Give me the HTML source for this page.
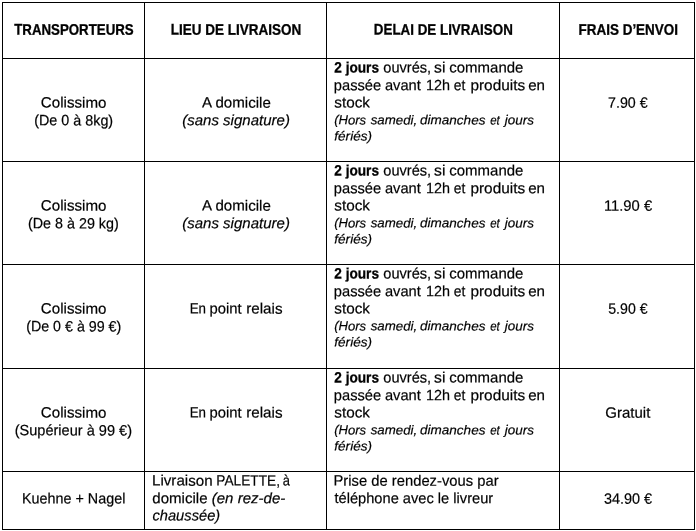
<!DOCTYPE html><html lang="fr"><head><meta charset="utf-8"><title>Livraison</title><style>
html,body{margin:0;padding:0;background:#fff;}
body{width:696px;height:531px;position:relative;overflow:hidden;font-family:"Liberation Sans", sans-serif;color:#000;}
.ln{position:absolute;background:#000;}
#tx{position:absolute;left:0;top:0;width:696px;height:531px;opacity:0.999;will-change:transform;}
.t{position:absolute;left:0;top:0;white-space:nowrap;line-height:20px;transform-origin:0 0;color:#000;text-rendering:geometricPrecision;-webkit-text-stroke:0.2px #000;}

</style></head><body>
<div class="ln" style="left:2px;top:2px;width:1px;height:528px"></div>
<div class="ln" style="left:144px;top:2px;width:1px;height:528px"></div>
<div class="ln" style="left:326px;top:2px;width:1px;height:528px"></div>
<div class="ln" style="left:559px;top:2px;width:1px;height:528px"></div>
<div class="ln" style="left:694px;top:2px;width:1px;height:528px"></div>
<div class="ln" style="left:2px;top:2px;width:693px;height:1px"></div>
<div class="ln" style="left:2px;top:58px;width:693px;height:1px"></div>
<div class="ln" style="left:2px;top:161px;width:693px;height:1px"></div>
<div class="ln" style="left:2px;top:264px;width:693px;height:1px"></div>
<div class="ln" style="left:2px;top:368px;width:693px;height:1px"></div>
<div class="ln" style="left:2px;top:471px;width:693px;height:1px"></div>
<div class="ln" style="left:2px;top:529px;width:693px;height:1px"></div>
<div id="tx">
<div class="t" style="font-size:15.3px;font-weight:bold;-webkit-text-stroke:0.3px #000;transform:matrix(0.8678,0.0007,0,1,14.20,20.62)">TRANSPORTEURS</div>
<div class="t" style="font-size:15.3px;font-weight:bold;-webkit-text-stroke:0.3px #000;transform:matrix(0.8821,0.0007,0,1,170.73,20.62)">LIEU DE LIVRAISON</div>
<div class="t" style="font-size:15.3px;font-weight:bold;-webkit-text-stroke:0.3px #000;transform:matrix(0.8745,0.0007,0,1,373.83,20.61)">DELAI DE LIVRAISON</div>
<div class="t" style="font-size:15.3px;font-weight:bold;-webkit-text-stroke:0.3px #000;transform:matrix(0.8800,0.0007,0,1,578.53,20.63)">FRAIS D’ENVOI</div>
<div class="t" style="font-size:15px;transform:matrix(1.0098,0.0007,0,1,40.87,93.60)">Colissimo</div>
<div class="t" style="font-size:15px;transform:matrix(0.9570,0.0007,0,1,34.16,111.35)">(De 0 à 8kg)</div>
<div class="t" style="font-size:15px;transform:matrix(1.0077,0.0007,0,1,201.93,93.60)">A domicile</div>
<div class="t" style="font-size:15px;font-style:italic;transform:matrix(1.0016,0.0007,0,1,182.17,111.18)">(sans signature)</div>
<div class="t" style="font-size:15px;font-weight:bold;-webkit-text-stroke:0.3px #000;transform:matrix(0.9096,0.0007,0,1,334.26,58.45)">2 jours</div>
<div class="t" style="font-size:15px;transform:matrix(0.9737,0.0007,0,1,383.26,58.45)">ouvrés,</div>
<div class="t" style="font-size:15px;transform:matrix(1.0526,0.0007,0,1,434.01,58.47)">si</div>
<div class="t" style="font-size:15px;transform:matrix(0.9983,0.0007,0,1,449.30,58.44)">commande</div>
<div class="t" style="font-size:15px;transform:matrix(0.9792,0.0007,0,1,333.84,76.26)">passée</div>
<div class="t" style="font-size:15px;transform:matrix(0.9793,0.0007,0,1,384.91,76.27)">avant</div>
<div class="t" style="font-size:15px;transform:matrix(0.9600,0.0007,0,1,426.04,76.27)">12h</div>
<div class="t" style="font-size:15px;transform:matrix(0.9250,0.0007,0,1,453.84,76.28)">et</div>
<div class="t" style="font-size:15px;transform:matrix(1.0269,0.0007,0,1,470.40,76.26)">produits</div>
<div class="t" style="font-size:15px;transform:matrix(1.0098,0.0007,0,1,528.20,76.27)">en</div>
<div class="t" style="font-size:15px;transform:matrix(1.0216,0.0007,0,1,334.22,93.46)">stock</div>
<div class="t" style="font-size:13px;font-style:italic;transform:matrix(1.0056,0.0007,0,1,334.20,110.37)">(Hors</div>
<div class="t" style="font-size:13px;font-style:italic;transform:matrix(1.0215,0.0007,0,1,370.73,110.36)">samedi,</div>
<div class="t" style="font-size:13px;font-style:italic;transform:matrix(1.0405,0.0007,0,1,420.01,110.36)">dimanches</div>
<div class="t" style="font-size:13px;font-style:italic;transform:matrix(0.8818,0.0007,0,1,490.17,110.38)">et</div>
<div class="t" style="font-size:13px;font-style:italic;transform:matrix(1.0339,0.0007,0,1,504.75,110.37)">jours</div>
<div class="t" style="font-size:13px;font-style:italic;transform:matrix(1.0429,0.0007,0,1,334.31,126.46)">fériés)</div>
<div class="t" style="font-size:15px;transform:matrix(0.9512,0.0007,0,1,608.01,93.71)">7.90 €</div>
<div class="t" style="font-size:15px;transform:matrix(1.0098,0.0007,0,1,40.87,196.60)">Colissimo</div>
<div class="t" style="font-size:15px;transform:matrix(0.9558,0.0007,0,1,27.91,214.35)">(De 8 à 29 kg)</div>
<div class="t" style="font-size:15px;transform:matrix(1.0077,0.0007,0,1,201.93,196.60)">A domicile</div>
<div class="t" style="font-size:15px;font-style:italic;transform:matrix(1.0016,0.0007,0,1,182.17,214.18)">(sans signature)</div>
<div class="t" style="font-size:15px;font-weight:bold;-webkit-text-stroke:0.3px #000;transform:matrix(0.9096,0.0007,0,1,334.26,161.45)">2 jours</div>
<div class="t" style="font-size:15px;transform:matrix(0.9737,0.0007,0,1,383.26,161.45)">ouvrés,</div>
<div class="t" style="font-size:15px;transform:matrix(1.0526,0.0007,0,1,434.01,161.47)">si</div>
<div class="t" style="font-size:15px;transform:matrix(0.9983,0.0007,0,1,449.30,161.44)">commande</div>
<div class="t" style="font-size:15px;transform:matrix(0.9792,0.0007,0,1,333.84,179.26)">passée</div>
<div class="t" style="font-size:15px;transform:matrix(0.9793,0.0007,0,1,384.91,179.27)">avant</div>
<div class="t" style="font-size:15px;transform:matrix(0.9600,0.0007,0,1,426.04,179.27)">12h</div>
<div class="t" style="font-size:15px;transform:matrix(0.9250,0.0007,0,1,453.84,179.28)">et</div>
<div class="t" style="font-size:15px;transform:matrix(1.0269,0.0007,0,1,470.40,179.26)">produits</div>
<div class="t" style="font-size:15px;transform:matrix(1.0098,0.0007,0,1,528.20,179.27)">en</div>
<div class="t" style="font-size:15px;transform:matrix(1.0216,0.0007,0,1,334.22,196.46)">stock</div>
<div class="t" style="font-size:13px;font-style:italic;transform:matrix(1.0056,0.0007,0,1,334.20,213.37)">(Hors</div>
<div class="t" style="font-size:13px;font-style:italic;transform:matrix(1.0215,0.0007,0,1,370.73,213.36)">samedi,</div>
<div class="t" style="font-size:13px;font-style:italic;transform:matrix(1.0405,0.0007,0,1,420.01,213.36)">dimanches</div>
<div class="t" style="font-size:13px;font-style:italic;transform:matrix(0.8818,0.0007,0,1,490.17,213.38)">et</div>
<div class="t" style="font-size:13px;font-style:italic;transform:matrix(1.0339,0.0007,0,1,504.75,213.37)">jours</div>
<div class="t" style="font-size:13px;font-style:italic;transform:matrix(1.0429,0.0007,0,1,334.31,229.46)">fériés)</div>
<div class="t" style="font-size:15px;transform:matrix(0.9859,0.0007,0,1,603.91,196.70)">11.90 €</div>
<div class="t" style="font-size:15px;transform:matrix(1.0098,0.0007,0,1,40.87,299.60)">Colissimo</div>
<div class="t" style="font-size:15px;transform:matrix(0.9504,0.0007,0,1,26.17,317.35)">(De 0 € à 99 €)</div>
<div class="t" style="font-size:15px;transform:matrix(0.8916,0.0007,0,1,189.70,299.61)">En</div>
<div class="t" style="font-size:15px;transform:matrix(0.9897,0.0007,0,1,209.53,299.61)">point</div>
<div class="t" style="font-size:15px;transform:matrix(1.0145,0.0007,0,1,246.21,299.61)">relais</div>
<div class="t" style="font-size:15px;font-weight:bold;-webkit-text-stroke:0.3px #000;transform:matrix(0.9096,0.0007,0,1,334.26,264.46)">2 jours</div>
<div class="t" style="font-size:15px;transform:matrix(0.9737,0.0007,0,1,383.26,264.46)">ouvrés,</div>
<div class="t" style="font-size:15px;transform:matrix(1.0526,0.0007,0,1,434.01,264.48)">si</div>
<div class="t" style="font-size:15px;transform:matrix(0.9983,0.0007,0,1,449.30,264.45)">commande</div>
<div class="t" style="font-size:15px;transform:matrix(0.9792,0.0007,0,1,333.84,282.25)">passée</div>
<div class="t" style="font-size:15px;transform:matrix(0.9793,0.0007,0,1,384.91,282.26)">avant</div>
<div class="t" style="font-size:15px;transform:matrix(0.9600,0.0007,0,1,426.04,282.26)">12h</div>
<div class="t" style="font-size:15px;transform:matrix(0.9250,0.0007,0,1,453.84,282.27)">et</div>
<div class="t" style="font-size:15px;transform:matrix(1.0269,0.0007,0,1,470.40,282.25)">produits</div>
<div class="t" style="font-size:15px;transform:matrix(1.0098,0.0007,0,1,528.20,282.26)">en</div>
<div class="t" style="font-size:15px;transform:matrix(1.0216,0.0007,0,1,334.22,299.47)">stock</div>
<div class="t" style="font-size:13px;font-style:italic;transform:matrix(1.0056,0.0007,0,1,334.20,316.37)">(Hors</div>
<div class="t" style="font-size:13px;font-style:italic;transform:matrix(1.0215,0.0007,0,1,370.73,316.36)">samedi,</div>
<div class="t" style="font-size:13px;font-style:italic;transform:matrix(1.0405,0.0007,0,1,420.01,316.36)">dimanches</div>
<div class="t" style="font-size:13px;font-style:italic;transform:matrix(0.8818,0.0007,0,1,490.17,316.38)">et</div>
<div class="t" style="font-size:13px;font-style:italic;transform:matrix(1.0339,0.0007,0,1,504.75,316.37)">jours</div>
<div class="t" style="font-size:13px;font-style:italic;transform:matrix(1.0429,0.0007,0,1,334.31,332.47)">fériés)</div>
<div class="t" style="font-size:15px;transform:matrix(0.9435,0.0007,0,1,608.23,299.72)">5.90 €</div>
<div class="t" style="font-size:15px;transform:matrix(1.0098,0.0007,0,1,40.87,403.60)">Colissimo</div>
<div class="t" style="font-size:15px;transform:matrix(0.9706,0.0007,0,1,14.65,421.34)">(Supérieur à 99 €)</div>
<div class="t" style="font-size:15px;transform:matrix(0.8916,0.0007,0,1,189.70,403.61)">En</div>
<div class="t" style="font-size:15px;transform:matrix(0.9897,0.0007,0,1,209.53,403.61)">point</div>
<div class="t" style="font-size:15px;transform:matrix(1.0145,0.0007,0,1,246.21,403.61)">relais</div>
<div class="t" style="font-size:15px;font-weight:bold;-webkit-text-stroke:0.3px #000;transform:matrix(0.9096,0.0007,0,1,334.26,368.46)">2 jours</div>
<div class="t" style="font-size:15px;transform:matrix(0.9737,0.0007,0,1,383.26,368.46)">ouvrés,</div>
<div class="t" style="font-size:15px;transform:matrix(1.0526,0.0007,0,1,434.01,368.48)">si</div>
<div class="t" style="font-size:15px;transform:matrix(0.9983,0.0007,0,1,449.30,368.45)">commande</div>
<div class="t" style="font-size:15px;transform:matrix(0.9792,0.0007,0,1,333.84,386.25)">passée</div>
<div class="t" style="font-size:15px;transform:matrix(0.9793,0.0007,0,1,384.91,386.26)">avant</div>
<div class="t" style="font-size:15px;transform:matrix(0.9600,0.0007,0,1,426.04,386.26)">12h</div>
<div class="t" style="font-size:15px;transform:matrix(0.9250,0.0007,0,1,453.84,386.27)">et</div>
<div class="t" style="font-size:15px;transform:matrix(1.0269,0.0007,0,1,470.40,386.25)">produits</div>
<div class="t" style="font-size:15px;transform:matrix(1.0098,0.0007,0,1,528.20,386.26)">en</div>
<div class="t" style="font-size:15px;transform:matrix(1.0216,0.0007,0,1,334.22,403.47)">stock</div>
<div class="t" style="font-size:13px;font-style:italic;transform:matrix(1.0056,0.0007,0,1,334.20,420.37)">(Hors</div>
<div class="t" style="font-size:13px;font-style:italic;transform:matrix(1.0215,0.0007,0,1,370.73,420.36)">samedi,</div>
<div class="t" style="font-size:13px;font-style:italic;transform:matrix(1.0405,0.0007,0,1,420.01,420.36)">dimanches</div>
<div class="t" style="font-size:13px;font-style:italic;transform:matrix(0.8818,0.0007,0,1,490.17,420.38)">et</div>
<div class="t" style="font-size:13px;font-style:italic;transform:matrix(1.0339,0.0007,0,1,504.75,420.37)">jours</div>
<div class="t" style="font-size:13px;font-style:italic;transform:matrix(1.0429,0.0007,0,1,334.31,436.47)">fériés)</div>
<div class="t" style="font-size:15px;transform:matrix(1.0006,0.0007,0,1,605.27,403.71)">Gratuit</div>
<div class="t" style="font-size:15px;transform:matrix(0.9575,0.0007,0,1,21.92,489.44)">Kuehne + Nagel</div>
<div class="t" style="font-size:15px;transform:matrix(1.0103,0.0007,0,1,151.96,471.60)">Livraison</div>
<div class="t" style="font-size:15px;transform:matrix(0.9128,0.0007,0,1,216.37,471.60)">PALETTE,</div>
<div class="t" style="font-size:15px;transform:matrix(0.8625,0.0007,0,1,282.87,471.62)">à</div>
<div class="t" style="font-size:15px;transform:matrix(1.0040,0.0007,0,1,152.30,489.13)">domicile <i>(en rez-de-</i></div>
<div class="t" style="font-size:15px;font-style:italic;transform:matrix(0.9794,0.0007,0,1,152.43,506.46)">chaussée)</div>
<div class="t" style="font-size:15px;transform:matrix(0.9851,0.0007,0,1,333.49,471.62)">Prise de rendez-vous par</div>
<div class="t" style="font-size:15px;transform:matrix(0.9761,0.0007,0,1,334.48,489.12)">téléphone avec le livreur</div>
<div class="t" style="font-size:15px;transform:matrix(0.9636,0.0007,0,1,603.92,489.66)">34.90 €</div>
</div>
</body></html>
